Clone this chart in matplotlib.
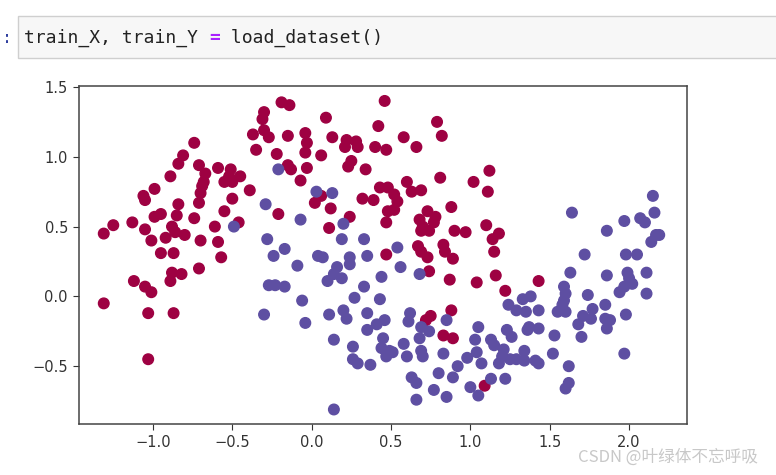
import numpy as np
import matplotlib.pyplot as plt
import matplotlib.patches as patches

# moons dataset, class 0 (red) and class 1 (blue)
red_x = [-0.74, -0.81, -0.84, -0.71, -0.59, -0.51, -0.52, -0.55, -0.50, -0.67, -0.89, -0.68, -0.69, -0.99,
         -1.06, -1.05, -0.70, -0.71, -0.84, -0.50, -0.55, -0.95, -0.99, -0.85, -0.74, -1.13, -1.25, -1.31,
         -1.05, -0.88, -0.86, -0.92, -0.80, -0.61, -1.01, -0.70, -0.59, -0.95, -0.87, -0.57,
         -0.71, -0.88, -0.82, -0.89, -1.12, -1.05, -1.01, -1.31, -1.03, -0.87, -1.03,
         -0.19, -0.14, 0.46, -0.30, -0.31, 0.09, 0.42, -0.37, -0.30, -0.27, -0.15, -0.04, -0.03, 0.13,
         0.22, 0.28, 0.21, 0.29, 0.40, 0.47, -0.35, -0.22, -0.04, 0.06, 0.25, 0.23, -0.15, -0.13, -0.03,
         0.34, -0.45, -0.07, -0.39, 0.06, 0.02, 0.12, -0.21, 0.24, 0.32, 0.39, 0.43, 0.48, 0.48, 0.47,
         -0.46, 0.11, 0.47,
         0.79, 0.82, 0.58, 0.66, 1.12, 0.81, 1.02, 1.11, 0.60, 0.63, 0.69, 0.52, 0.54, 0.52, 0.88, 0.73,
         0.68, 0.70, 0.78, 0.77, 0.69, 0.74, 0.90, 0.97, 1.10, 1.18, 1.14, 0.67, 0.69, 0.73, 0.83, 0.84,
         0.89, 1.15,
         0.74, 0.87, 1.04, 1.16, 1.22, 1.43, 0.88, 0.72, 0.75, 0.83, 0.89, 1.09]
red_y = [1.10, 1.01, 0.95, 0.94, 0.92, 0.91, 0.86, 0.82, 0.82, 0.88, 0.86, 0.82, 0.79, 0.77,
         0.72, 0.69, 0.74, 0.67, 0.66, 0.70, 0.61, 0.59, 0.57, 0.58, 0.56, 0.53, 0.51, 0.45,
         0.48, 0.50, 0.46, 0.42, 0.44, 0.50, 0.40, 0.40, 0.39, 0.31, 0.31, 0.28,
         0.20, 0.17, 0.16, 0.11, 0.11, 0.07, 0.03, -0.05, -0.12, -0.12, -0.45,
         1.39, 1.37, 1.40, 1.32, 1.27, 1.28, 1.22, 1.16, 1.19, 1.14, 1.15, 1.17, 1.10, 1.14,
         1.12, 1.11, 1.07, 1.07, 1.07, 1.05, 1.05, 1.02, 1.03, 1.01, 0.97, 0.93, 0.94, 0.91, 0.92,
         0.91, 0.86, 0.83, 0.76, 0.72, 0.67, 0.63, 0.59, 0.57, 0.70, 0.69, 0.78, 0.78, 0.61, 0.53,
         0.53, 0.49, 0.30,
         1.25, 1.15, 1.14, 1.07, 0.90, 0.85, 0.82, 0.75, 0.82, 0.75, 0.76, 0.73, 0.68, 0.62, 0.64, 0.61,
         0.55, 0.50, 0.57, 0.53, 0.47, 0.47, 0.47, 0.46, 0.51, 0.45, 0.41, 0.36, 0.32, 0.28, 0.37, 0.32,
         0.27, 0.32,
         0.18, 0.12, 0.10, 0.15, 0.04, 0.11, -0.10, -0.17, -0.14, -0.28, -0.30, -0.64]

blue_x = [-0.49,
          -0.21, 0.03, 0.13, -0.29, -0.07, 0.20, -0.28, 0.19, 0.33, -0.17, -0.24, 0.04, 0.07, 0.24, 0.35,
          -0.09, 0.16, 0.24, 0.14, 0.10, 0.19, 0.44, -0.27, -0.23, -0.17, 0.33, -0.06, 0.27, 0.43, -0.30,
          0.11, 0.20, 0.22, 0.35, -0.04, 0.41, 0.46, 0.35, 0.14, 0.45, 0.26, 0.44, 0.47, 0.26, 0.29, 0.37,
          0.14, 0.54,
          0.56, 0.68, 1.24, 1.29, 1.35, 1.33, 1.38, 1.43, 0.62, 0.61, 0.85, 0.69, 0.74, 1.05, 1.23, 1.26,
          1.36, 1.37, 1.43, 0.68, 1.03, 1.13, 1.15, 1.21, 1.20, 0.58, 0.49, 0.51, 0.69, 0.70, 0.60, 0.83,
          0.98, 1.04, 1.07, 1.18, 1.25, 1.29, 1.34, 1.34, 1.41, 0.92, 0.80, 0.89, 1.13, 1.22, 0.63, 0.66,
          0.77, 1.00, 1.05, 0.85, 0.66,
          2.15, 1.64, 2.16, 1.97, 2.07, 2.10, 1.86, 2.17, 2.19, 2.14, 1.72, 1.98, 2.05,
          1.63, 1.86, 1.99, 2.00, 2.02, 1.97, 1.94, 2.11, 2.11, 1.59, 1.60, 1.59, 1.58, 1.55, 1.60, 1.74,
          1.77, 1.85, 1.71, 1.76, 1.85, 1.88, 1.98, 1.68, 1.86, 1.53, 1.70, 1.97, 1.52, 1.43, 1.62, 1.62,
          1.60]
blue_y = [0.50,
          0.91, 0.75, 0.74, 0.66, 0.55, 0.52, 0.41, 0.41, 0.41, 0.34, 0.29, 0.29, 0.28, 0.28, 0.29,
          0.22, 0.21, 0.23, 0.16, 0.11, 0.13, 0.14, 0.08, 0.08, 0.07, 0.07, -0.03, -0.01, -0.02, -0.13,
          -0.13, -0.10, -0.16, -0.12, -0.19, -0.20, -0.17, -0.24, -0.31, -0.30, -0.36, -0.37, -0.43, -0.45,
          -0.48, -0.49, -0.81, 0.35,
          0.21, 0.16, -0.06, -0.10, -0.11, -0.02, 0.00, -0.10, -0.12, -0.18, -0.17, -0.22, -0.25, -0.22,
          -0.24, -0.29, -0.24, -0.22, -0.23, -0.30, -0.31, -0.31, -0.35, -0.38, -0.43, -0.34, -0.39, -0.40,
          -0.39, -0.43, -0.43, -0.41, -0.44, -0.40, -0.48, -0.48, -0.45, -0.45, -0.39, -0.46, -0.46, -0.50,
          -0.55, -0.58, -0.59, -0.59, -0.58, -0.62, -0.67, -0.65, -0.71, -0.72, -0.74,
          0.72, 0.60, 0.60, 0.54, 0.56, 0.53, 0.47, 0.44, 0.44, 0.39, 0.30, 0.30, 0.30,
          0.17, 0.15, 0.17, 0.13, 0.09, 0.07, 0.03, 0.17, 0.02, 0.07, 0.02, -0.03, -0.06, -0.11, -0.11, 0.01,
          -0.09, -0.06, -0.14, -0.16, -0.16, -0.17, -0.13, -0.20, -0.23, -0.28, -0.29, -0.41, -0.41, -0.48,
          -0.50, -0.62, -0.66]

code_line = "train_X, train_Y = load_dataset()"
watermark = "CSDN @叶绿体不忘呼吸"


def main():
    train_X = np.column_stack([red_x + blue_x, red_y + blue_y])
    train_Y = np.array([0] * len(red_x) + [1] * len(blue_x))

    fig = plt.figure(figsize=(7.76, 4.75), dpi=100)

    # notebook code cell above the output
    cell = patches.Rectangle((18 / 776, 1 - 58 / 475), 1.0, 42 / 475, transform=fig.transFigure,
                             facecolor="#f7f7f7", edgecolor="#cfcfcf", linewidth=1)
    fig.patches.append(cell)
    fig.text(2 / 776, 1 - 38 / 475, ":", fontsize=12, color="#303f9f", va="center", family="DejaVu Sans Mono")

    # monospace: one char = 0.602 em
    fs = 13
    char_w = fs * 100 / 72 * 0.602
    x0 = 24
    eq = code_line.index("=")
    fig.text(x0 / 776, 1 - 38 / 475, code_line[:eq], fontsize=fs, va="center",
             family="DejaVu Sans Mono", color="#222222")
    fig.text((x0 + eq * char_w) / 776, 1 - 38 / 475, "=", fontsize=fs, va="center",
             family="DejaVu Sans Mono", color="#aa22ff", fontweight="bold")
    fig.text((x0 + (eq + 1) * char_w) / 776, 1 - 38 / 475, code_line[eq + 1:], fontsize=fs, va="center",
             family="DejaVu Sans Mono", color="#222222")

    ax = fig.add_axes([79 / 776, 1 - 424 / 475, 608 / 776, 338 / 475])
    ax.scatter(train_X[:, 0], train_X[:, 1], c=train_Y, s=58, cmap=plt.cm.Spectral)
    ax.set_xlim(-1.466, 2.365)
    ax.set_ylim(-0.914, 1.507)
    ax.set_xticks([-1.0, -0.5, 0.0, 0.5, 1.0, 1.5, 2.0])
    ax.set_yticks([-0.5, 0.0, 0.5, 1.0, 1.5])
    ax.tick_params(labelsize=10.5, colors="#333333", length=4.5)
    for s in ax.spines.values():
        s.set_color("#444444")
        s.set_linewidth(1.1)

    fig.text(758 / 776, 1 - 457 / 475, watermark, fontsize=12, ha="right", va="center",
             color="#c8c8c8", family=["Noto Sans CJK SC", "DejaVu Sans"])

    fig.savefig("out.png", dpi=100)
    plt.close(fig)


if __name__ == "__main__":
    main()
